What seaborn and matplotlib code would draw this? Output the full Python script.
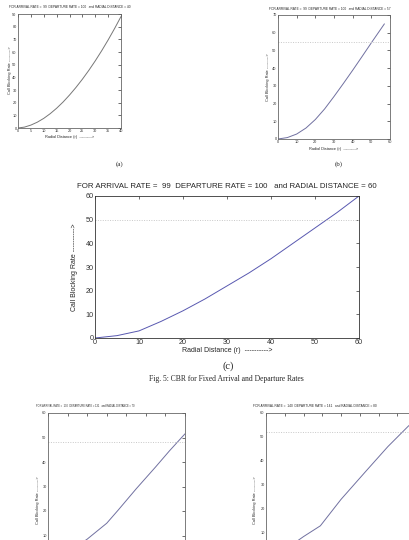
import matplotlib
matplotlib.use("Agg")
import matplotlib.pyplot as plt
import seaborn as sns
import pandas as pd

sns.set_style("white")
plt.rcParams['font.family'] = ['Liberation Sans', 'DejaVu Sans']

# ---- data ----
a_r = [0, 2.5, 5, 7.5, 10, 12.5, 15, 17.5, 20, 22.5, 25, 27.5, 30, 32.5, 35, 37.5, 40]
a_cbr = [0, 0.7, 2.3, 4.6, 7.6, 11.3, 15.6, 20.5, 26, 32, 38.5, 45.5, 53, 61, 69.5, 78.5, 88]

b_r = [0, 5, 10, 15, 20, 25, 30, 35, 40, 45, 50, 57]
b_cbr = [0, 0.8, 2.8, 6.2, 11, 17, 24, 31.3, 38.8, 46.5, 54.3, 65]
b_limit = 55

c_r = [0, 5, 10, 15, 20, 25, 30, 35, 40, 45, 50, 55, 60]
c_cbr = [0, 1, 3, 7, 11.5, 16.5, 22, 27.5, 33.5, 40, 46.5, 53, 60]
c_limit = 50

d_r = [0, 10, 20, 30, 36, 45, 55, 62, 70]
d_cbr = [0, 3, 8.5, 15, 20.5, 29, 38, 44.5, 51.5]
d_limit = 48

e_r = [0, 10, 20, 29, 40, 53, 65, 76, 80]
e_cbr = [0, 3, 8.5, 13, 24, 35.5, 46, 54.6, 57]
e_limit = 52

titles = [
    "FOR ARRIVAL RATE =  99  DEPARTURE RATE = 100   and RADIAL DISTANCE = 40",
    "FOR ARRIVAL RATE =  99  DEPARTURE RATE = 100   and RADIAL DISTANCE = 57",
    "FOR ARRIVAL RATE =  99  DEPARTURE RATE = 100   and RADIAL DISTANCE = 60",
    "FOR ARRIVAL RATE =  130  DEPARTURE RATE = 131   and RADIAL DISTANCE = 70",
    "FOR ARRIVAL RATE =  140  DEPARTURE RATE = 141   and RADIAL DISTANCE = 80",
]
xlab = "Radial Distance (r)  ---------->"
ylab = "Call Blocking Rate ---------->"

W, H = 409, 540
fig = plt.figure(figsize=(W / 100, H / 100), dpi=100)


def rect(l, r, t, b):
    return [l / W, 1 - b / H, (r - l) / W, (b - t) / H]


def panel(pos, r, cbr, limit, xlim, xstep, ylim, ystep, color, tsize,
          spine, hide_bottom=False):
    ax = fig.add_axes(rect(*pos))
    df = pd.DataFrame({"r": r, "cbr": cbr})
    sns.lineplot(data=df, x="r", y="cbr", ax=ax, color=color, lw=0.7)
    if limit is not None:
        ax.axhline(limit, color="#c8c8c8", lw=0.7, ls=(0, (1, 1.5)))
    ax.set_xlim(*xlim)
    ax.set_ylim(*ylim)
    xt = list(range(xlim[0], xlim[1] + 1, xstep))
    yt = list(range(ylim[0], ylim[1] + 1, ystep))
    ax.set_xticks(xt)
    ax.set_yticks(yt)
    if hide_bottom:
        ax.set_xticklabels([""] * len(xt))
        ax.set_yticklabels([""] + [str(v) for v in yt[1:]])
    ax.tick_params(direction="in", top=True, right=True, length=2,
                   width=0.5, labelsize=tsize, pad=1, colors="#333333")
    for s in ax.spines.values():
        s.set_color(spine)
        s.set_linewidth(0.6)
    ax.set_xlabel("")
    ax.set_ylabel("")
    return ax


small = 2.3

# (a)
panel((18, 121, 14, 128), a_r, a_cbr, None, (0, 40), 5, (0, 90), 10,
      "#777777", 2.8, "#666666")
fig.text(9 / W, 1 - 7 / H, titles[0], fontsize=small, va="center", ha="left")
fig.text(70 / W, 1 - 137 / H, xlab, fontsize=2.8, va="center", ha="center")
fig.text(10 / W, 1 - 70 / H, ylab, fontsize=2.8, va="center", ha="center", rotation=90)
fig.text(120 / W, 1 - 164 / H, "(a)", fontsize=5, family="Liberation Serif", va="center", ha="center")

# (b)
panel((278, 390, 15, 139), b_r, b_cbr, b_limit, (0, 60), 10, (0, 70), 10,
      "#7070a0", 2.8, "#666666")
fig.text(269 / W, 1 - 9 / H, titles[1], fontsize=small, va="center", ha="left")
fig.text(334 / W, 1 - 149 / H, xlab, fontsize=2.8, va="center", ha="center")
fig.text(268 / W, 1 - 77 / H, ylab, fontsize=2.8, va="center", ha="center", rotation=90)
fig.text(339 / W, 1 - 164 / H, "(b)", fontsize=5, family="Liberation Serif", va="center", ha="center")

# (c)
panel((95, 359, 196, 338), c_r, c_cbr, c_limit, (0, 60), 10, (0, 60), 10,
      "#5858b0", 5.2, "#333333")
fig.text(227 / W, 1 - 187 / H, titles[2], fontsize=5.7, va="center", ha="center")
fig.text(227 / W, 1 - 350 / H, xlab, fontsize=5, va="center", ha="center")
fig.text(75 / W, 1 - 267 / H, ylab, fontsize=5, va="center", ha="center", rotation=90)
fig.text(228 / W, 1 - 366 / H, "(c)", fontsize=7.5, family="Liberation Serif", va="center", ha="center")
fig.text(226 / W, 1 - 379 / H, "Fig. 5: CBR for Fixed Arrival and Departure Rates",
         fontsize=5.5, family="Liberation Serif", va="center", ha="center")

# (d)
panel((48, 185, 413, 560), d_r, d_cbr, d_limit, (0, 70), 10, (0, 60), 10,
      "#7070a0", 2.8, "#666666", hide_bottom=True)
fig.text(36 / W, 1 - 406 / H, titles[3], fontsize=1.85, va="center", ha="left")
fig.text(38 / W, 1 - 500 / H, ylab, fontsize=2.8, va="center", ha="center", rotation=90)

# (e)
panel((266, 416, 413, 557), e_r, e_cbr, e_limit, (0, 80), 10, (0, 60), 10,
      "#7070a0", 2.8, "#666666", hide_bottom=True)
fig.text(253 / W, 1 - 406 / H, titles[4], fontsize=small, va="center", ha="left")
fig.text(255 / W, 1 - 500 / H, ylab, fontsize=2.8, va="center", ha="center", rotation=90)

fig.savefig("out.png", dpi=100)
